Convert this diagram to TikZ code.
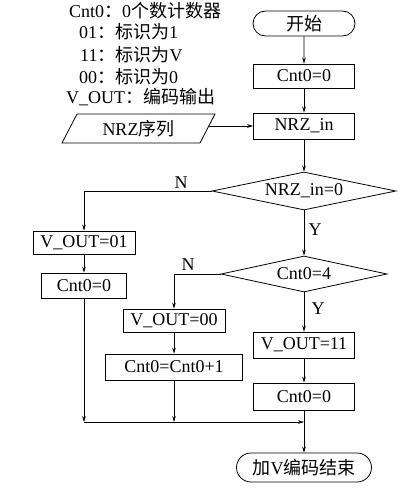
\documentclass[tikz,border=0pt]{standalone}
\usepackage{fontspec}
\setmainfont{Liberation Serif}
\newfontfamily\cjk{Noto Sans CJK SC}
\usetikzlibrary{shapes.geometric,shapes.misc,arrows.meta}
\begin{document}
\begin{tikzpicture}[x=1pt,y=-1pt,font=\fontsize{18}{20}\selectfont,
  box/.style={draw,line width=0.8pt,inner sep=0pt,minimum width=#1,minimum height=25pt},
  term/.style={draw,rounded rectangle,line width=0.8pt,inner sep=0pt},
  dec/.style={draw,diamond,aspect=4.8,line width=0.8pt,inner sep=0pt},
  arr/.style={-{Stealth[length=6pt,width=3.6pt]},line width=0.7pt},
  lbl/.style={inner sep=0pt},
  leg/.style={anchor=base west,inner sep=0pt}]
\useasboundingbox (0,0) rectangle (410,490);
% legend
\node[leg] (l1) at (69,17.5) {Cnt0{\cjk ：}0{\cjk 个数计数器}};
\node[leg] (l2) at (79,38) {01{\cjk ：标识为}1};
\node[leg] (l3) at (80,61.5) {11{\cjk ：标识为}V};
\node[leg] (l4) at (79,83) {00{\cjk ：标识为}0};
\node[leg] (l5) at (66,103) {V\_OUT{\cjk ：编码输出}};
% nodes
\node[term,minimum width=102pt,minimum height=25pt] (start) at (304,23.5) {\cjk 开始};
\node[box=101pt,minimum height=24pt] (c0) at (304,76) {Cnt0=0};
\node[box=101pt,minimum height=26pt] (nrzin) at (304,126) {NRZ\_in};
\draw[line width=0.8pt] (77,114) -- (215,114) -- (200,143) -- (62,143) -- cycle;
\node[lbl] (par) at (138.5,128.5) {NRZ{\cjk 序列}};
\coordinate (parR) at (208.5,126);
\node[dec,minimum width=184pt,minimum height=38pt] (d1) at (304,191) {NRZ\_in=0};
\node[box=102pt,minimum height=23pt] (v01) at (84,242.5) {V\_OUT=01};
\node[box=85pt] (c0L) at (84,285.5) {Cnt0=0};
\node[dec,minimum width=166pt,minimum height=36pt] (d2) at (304,274) {Cnt0=4};
\node[box=102pt,minimum height=23pt] (v00) at (174,320.5) {V\_OUT=00};
\node[box=137pt,minimum height=26pt] (c01) at (174,367) {Cnt0=Cnt0+1};
\node[box=101pt,minimum height=26pt] (v11) at (304,345) {V\_OUT=11};
\node[box=101pt,minimum height=27pt] (c0R) at (304,396.5) {Cnt0=0};
\node[term,minimum width=135pt,minimum height=29pt] (end) at (304,467.5) {{\cjk 加}V{\cjk 编码结束}};
\coordinate (mrg) at (304,422);
% labels
\node[lbl] (n1) at (181,183) {N};
\node[lbl] (y1) at (315,230) {Y};
\node[lbl] (n2) at (188,265) {N};
\node[lbl] (y2) at (318,309) {Y};
% edges
\draw[arr] (start) -- (c0);
\draw[arr] (c0) -- (nrzin);
\draw[arr] (parR) -- (nrzin);
\draw[arr] (nrzin) -- (d1);
\draw[arr] (d1.west) -| (v01.north);
\draw[arr] (v01) -- (c0L);
\draw[arr] (d1) -- (d2);
\draw[arr] (d2.west) -| (v00.north);
\draw[arr] (v00) -- (c01);
\draw[arr] (d2) -- (v11);
\draw[arr] (v11) -- (c0R);
\draw[arr] (c0L.south) -- (c0L.south |- mrg);
\draw[arr] (c01.south) -- (c01.south |- mrg);
\draw[arr] (c0L.south |- mrg) -- (mrg);
\draw[arr] (c0R) -- (end);
\end{tikzpicture}
\end{document}
